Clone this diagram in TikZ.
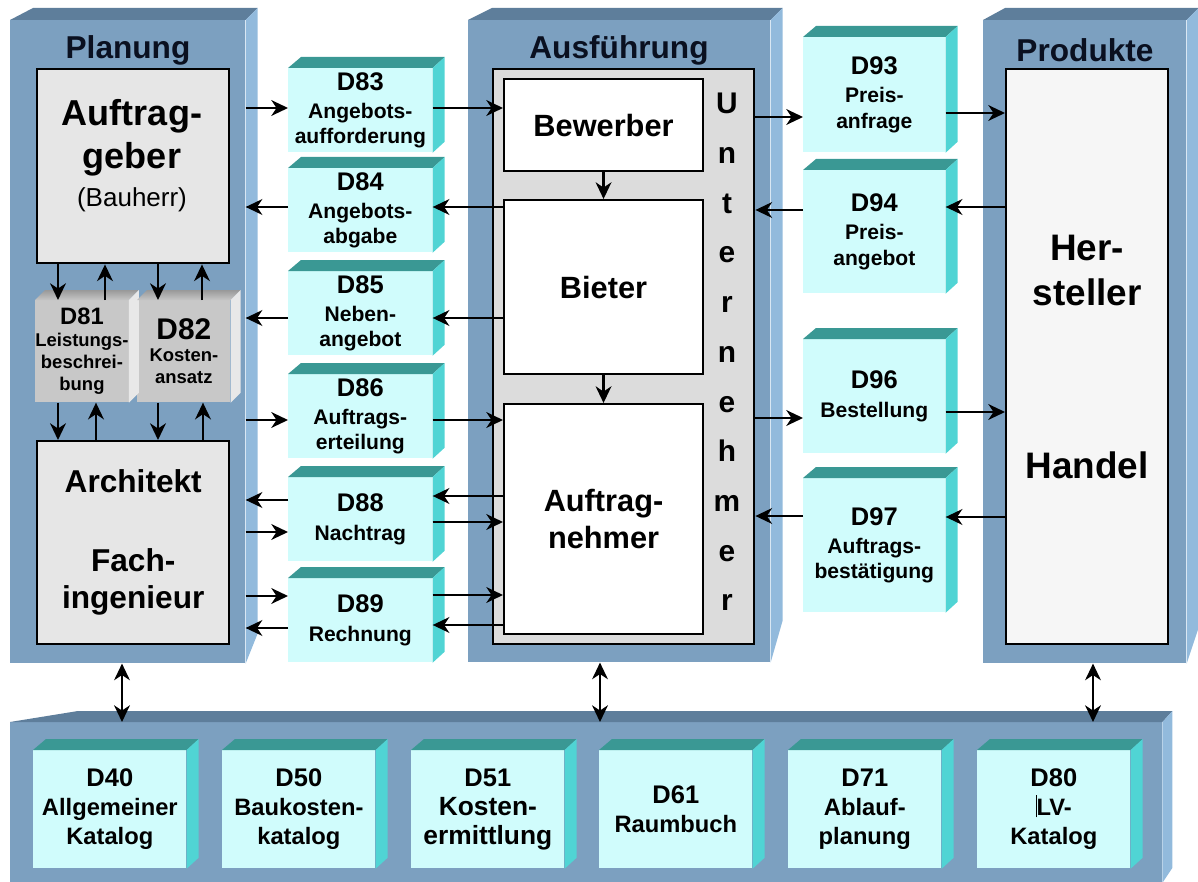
\documentclass[tikz,border=0pt]{standalone}
\usepackage{fontspec}
\setmainfont{Liberation Sans}
\usetikzlibrary{arrows.meta}
\definecolor{panelfront}{RGB}{124,160,192}
\definecolor{paneltop}{RGB}{94,126,155}
\definecolor{panelside}{RGB}{146,186,220}
\definecolor{cubefront}{RGB}{208,252,252}
\definecolor{cubetop}{RGB}{58,152,148}
\definecolor{cubeside}{RGB}{80,212,212}
\definecolor{greyfront}{RGB}{200,200,200}
\definecolor{greyside}{RGB}{232,232,232}
\definecolor{boxgrey}{RGB}{230,230,230}
\definecolor{untgrey}{RGB}{220,220,220}
\definecolor{hergrey}{RGB}{246,246,246}
\definecolor{titleblue}{RGB}{10,16,32}
\newcommand\dnr[1]{{\fontsize{14.5}{16}\selectfont #1}}
\begin{document}
\begin{tikzpicture}[x=0.02cm,y=-0.02cm,
  panel/.style={fill=panelfront,inner sep=0,anchor=north west},
  ptitle/.style={text=titleblue,font=\bfseries\fontsize{18}{20}\selectfont},
  actor/.style={draw,line width=1.4pt,inner sep=0,anchor=north west,align=center},
  inner/.style={actor,fill=white,line width=1.2pt,minimum width=3.98cm,font=\bfseries\fontsize{17.5}{21}\selectfont},
  cube/.style={fill=cubefront,inner sep=0,anchor=north west,align=center,font=\bfseries\fontsize{12}{14.6}\selectfont},
  mcube/.style={cube,minimum width=2.88cm,minimum height=1.68cm},
  rcube/.style={cube,minimum width=2.84cm},
  bcube/.style={cube,minimum width=3.06cm,minimum height=2.36cm,font=\bfseries\fontsize{13.5}{16.5}\selectfont},
  greycube/.style={fill=greyfront,inner sep=0,anchor=north west,align=center,font=\bfseries\fontsize{10.5}{12.4}\selectfont,minimum width=1.86cm,minimum height=2.04cm},
  arr/.style={line width=1.2pt,-{Stealth[length=9.5pt,width=9pt,inset=3pt]}},
  darr/.style={line width=1.2pt,{Stealth[length=9.5pt,width=9pt,inset=3pt]}-{Stealth[length=9.5pt,width=9pt,inset=3pt]}}]
\useasboundingbox (0,0) rectangle (1198,882);

\node[panel,minimum width=4.7cm,minimum height=12.86cm] (plan) at (10,20) {};
\node[panel,minimum width=6.04cm,minimum height=12.84cm] (ausf) at (468,20) {};
\node[panel,minimum width=4.06cm,minimum height=12.86cm] (prod) at (983,20) {};
\node[panel,minimum width=23.04cm,minimum height=3.2cm] (kat) at (10,722) {};
\foreach \p/\a/\b in {plan/23/30,ausf/24/42,prod/22/36} {
  \fill[paneltop] (\p.north west) -- ++(\a,-12) -- ([shift={(12,-12)}]\p.north east) -- (\p.north east) -- cycle;
  \fill[panelside] (\p.north east) -- ++(12,-12) -- ([shift={(12,-\b)}]\p.south east) -- (\p.south east) -- cycle;
}
\fill[paneltop] (kat.north west) -- ++(68,-11) -- ([shift={(10,-11)}]kat.north east) -- (kat.north east) -- cycle;
\fill[panelside] (kat.north east) -- ++(10,-11) -- ([shift={(10,-15)}]kat.south east) -- (kat.south east) -- cycle;

\node[ptitle] (plantitle) at (128,50) {Planung};
\node[ptitle] (ausftitle) at (619,50) {Ausführung};
\node[ptitle] (prodtitle) at (1085,50) {Produkte};

\node[actor,fill=boxgrey,minimum width=3.84cm,minimum height=3.88cm] (ag) at (36,68) {};
\node[align=center,font=\bfseries\fontsize{20.5}{24.6}\selectfont] (agtxt) at (132,156) {Auftrag-\\geber\\[-3pt]{\mdseries\fontsize{14.8}{17}\selectfont(Bauherr)}};
\node[actor,fill=boxgrey,minimum width=3.84cm,minimum height=4.06cm,font=\bfseries\fontsize{18}{21}\selectfont] (arch) at (36,440) {Architekt\\[24pt]Fach-\\ingenieur};

\node[actor,fill=untgrey,minimum width=5.22cm,minimum height=11.5cm] (unt) at (492,68) {};
\node[font=\bfseries\fontsize{17}{28.3}\selectfont,align=center,inner sep=0] (untlbl) at (727,352) {U\\n\\t\\e\\r\\n\\e\\h\\m\\e\\r};
\node[inner,minimum height=1.84cm] (bew) at (503,78) {Bewerber};
\node[inner,minimum height=3.48cm] (bieter) at (503,199) {Bieter};
\node[inner,minimum height=4.6cm] (an) at (503,403) {Auftrag-\\nehmer};

\node[actor,fill=hergrey,minimum width=3.24cm,minimum height=11.5cm,font=\bfseries\fontsize{21}{25.5}\selectfont] (her) at (1005,68) {Her-\\steller\\[73pt]Handel};

\node[greycube] (d81) at (35,300) {{\fontsize{13.5}{15}\selectfont D81}\\Leistungs-\\beschrei-\\bung};
\node[greycube] (d82) at (137,300) {{\fontsize{17}{19}\selectfont D82}\\Kosten-\\ansatz};
\foreach \c in {d81,d82} {
  \shade[top color=gray!80,bottom color=gray!45] (\c.north west) -- ++(10,-10) -- ([shift={(10,-10)}]\c.north east) -- (\c.north east) -- cycle;
  \fill[greyside] (\c.north east) -- ++(10,-10) -- ([shift={(10,-10)}]\c.south east) -- (\c.south east) -- cycle;
}

\node[mcube] (d83) at (288,68) {\dnr{D83}\\[1.5pt]Angebots-\\aufforderung};
\node[mcube] (d84) at (288,168) {\dnr{D84}\\[1.5pt]Angebots-\\abgabe};
\node[mcube] (d85) at (288,271) {\dnr{D85}\\[1.5pt]Neben-\\angebot};
\node[mcube] (d86) at (288,374) {\dnr{D86}\\[1.5pt]Auftrags-\\erteilung};
\node[mcube] (d88) at (288,477) {\dnr{D88}\\[1.5pt]Nachtrag};
\node[mcube] (d89) at (288,578) {\dnr{D89}\\[1.5pt]Rechnung};
\node[rcube,minimum height=2.3cm] (d93) at (803,37) {\dnr{D93}\\[1.5pt]Preis-\\anfrage};
\node[rcube,minimum height=2.46cm] (d94) at (803,170) {\dnr{D94}\\[1.5pt]Preis-\\angebot};
\node[rcube,minimum height=2.28cm] (d96) at (803,339) {\dnr{D96}\\[1.5pt]Bestellung};
\node[rcube,minimum height=2.68cm] (d97) at (803,478) {\dnr{D97}\\[1.5pt]Auftrags-\\bestätigung};
\node[bcube] (d40) at (33,750) {\dnr{D40}\\Allgemeiner\\Katalog};
\node[bcube] (d50) at (222,750) {\dnr{D50}\\Baukosten-\\katalog};
\node[bcube] (d51) at (411,750) {\dnr{D51}\\{\fontsize{15}{17}\selectfont Kosten-}\\{\fontsize{15}{17}\selectfont ermittlung}};
\node[bcube] (d61) at (599,750) {\dnr{D61}\\Raumbuch};
\node[bcube] (d71) at (788,750) {\dnr{D71}\\Ablauf-\\planung};
\node[bcube] (d80) at (977,750) {\dnr{D80}\\\rule[-1pt]{0.5pt}{13pt}LV-\\Katalog};
\foreach \c in {d83,d84,d85,d86,d88,d89,d93,d94,d96,d97,d40,d50,d51,d61,d71,d80} {
  \fill[cubetop] (\c.north west) -- ++(13,-11) -- ([shift={(12,-11)}]\c.north east) -- (\c.north east) -- cycle;
  \fill[cubeside] (\c.north east) -- ++(12,-11) -- ([shift={(12,-11)}]\c.south east) -- (\c.south east) -- cycle;
}

\draw[arr] (plan.east |- 0,108) -- (d83.west |- 0,108);
\draw[arr] (d84.west |- 0,207) -- (plan.east |- 0,207);
\draw[arr] (d85.west |- 0,318) -- (plan.east |- 0,318);
\draw[arr] (plan.east |- 0,420) -- (d86.west |- 0,420);
\draw[arr] (d88.west |- 0,500) -- (plan.east |- 0,500);
\draw[arr] (plan.east |- 0,532) -- (d88.west |- 0,532);
\draw[arr] (plan.east |- 0,596) -- (d89.west |- 0,596);
\draw[arr] (d89.west |- 0,628) -- (plan.east |- 0,628);

\draw[arr] (d83.east |- 0,108) -- (bew.west |- 0,108);
\draw[arr] (bieter.west |- 0,207) -- (d84.east |- 0,207);
\draw[arr] (bieter.west |- 0,318) -- (d85.east |- 0,318);
\draw[arr] (d86.east |- 0,420) -- (an.west |- 0,420);
\draw[arr] (an.west |- 0,496) -- (d88.east |- 0,496);
\draw[arr] (d88.east |- 0,522) -- (an.west |- 0,522);
\draw[arr] (d89.east |- 0,595) -- (an.west |- 0,595);
\draw[arr] (an.west |- 0,625) -- (d89.east |- 0,625);
\draw[arr] (bew.south) -- (bieter.north);
\draw[arr] (bieter.south) -- (an.north);

\draw[arr] (unt.east |- 0,117) -- (d93.west |- 0,117);
\draw[arr] (d93.east |- 0,113) -- (her.west |- 0,113);
\draw[arr] (her.west |- 0,207) -- (d94.east |- 0,207);
\draw[arr] (d94.west |- 0,210) -- (unt.east |- 0,210);
\draw[arr] (unt.east |- 0,418) -- (d96.west |- 0,418);
\draw[arr] (d96.east |- 0,412) -- (her.west |- 0,412);
\draw[arr] (her.west |- 0,517) -- (d97.east |- 0,517);
\draw[arr] (d97.west |- 0,516) -- (unt.east |- 0,516);

\foreach \x/\n in {58/d81,158/d82} {
  \draw[arr] (\x,0 |- ag.south) -- (\x,0 |- \n.north);
  \draw[arr] (\x,0 |- \n.south) -- (\x,0 |- arch.north);
}
\foreach \x/\n in {105/d81,202/d82} \draw[arr] (\x,0 |- \n.north) -- (\x,0 |- ag.south);
\foreach \x/\n in {96/d81,203/d82} \draw[arr] (\x,0 |- arch.north) -- (\x,0 |- \n.south);

\foreach \x/\p in {122/plan,600/ausf,1093/prod} \draw[darr] (\x,0 |- \p.south) -- (\x,0 |- kat.north);
\end{tikzpicture}
\end{document}
